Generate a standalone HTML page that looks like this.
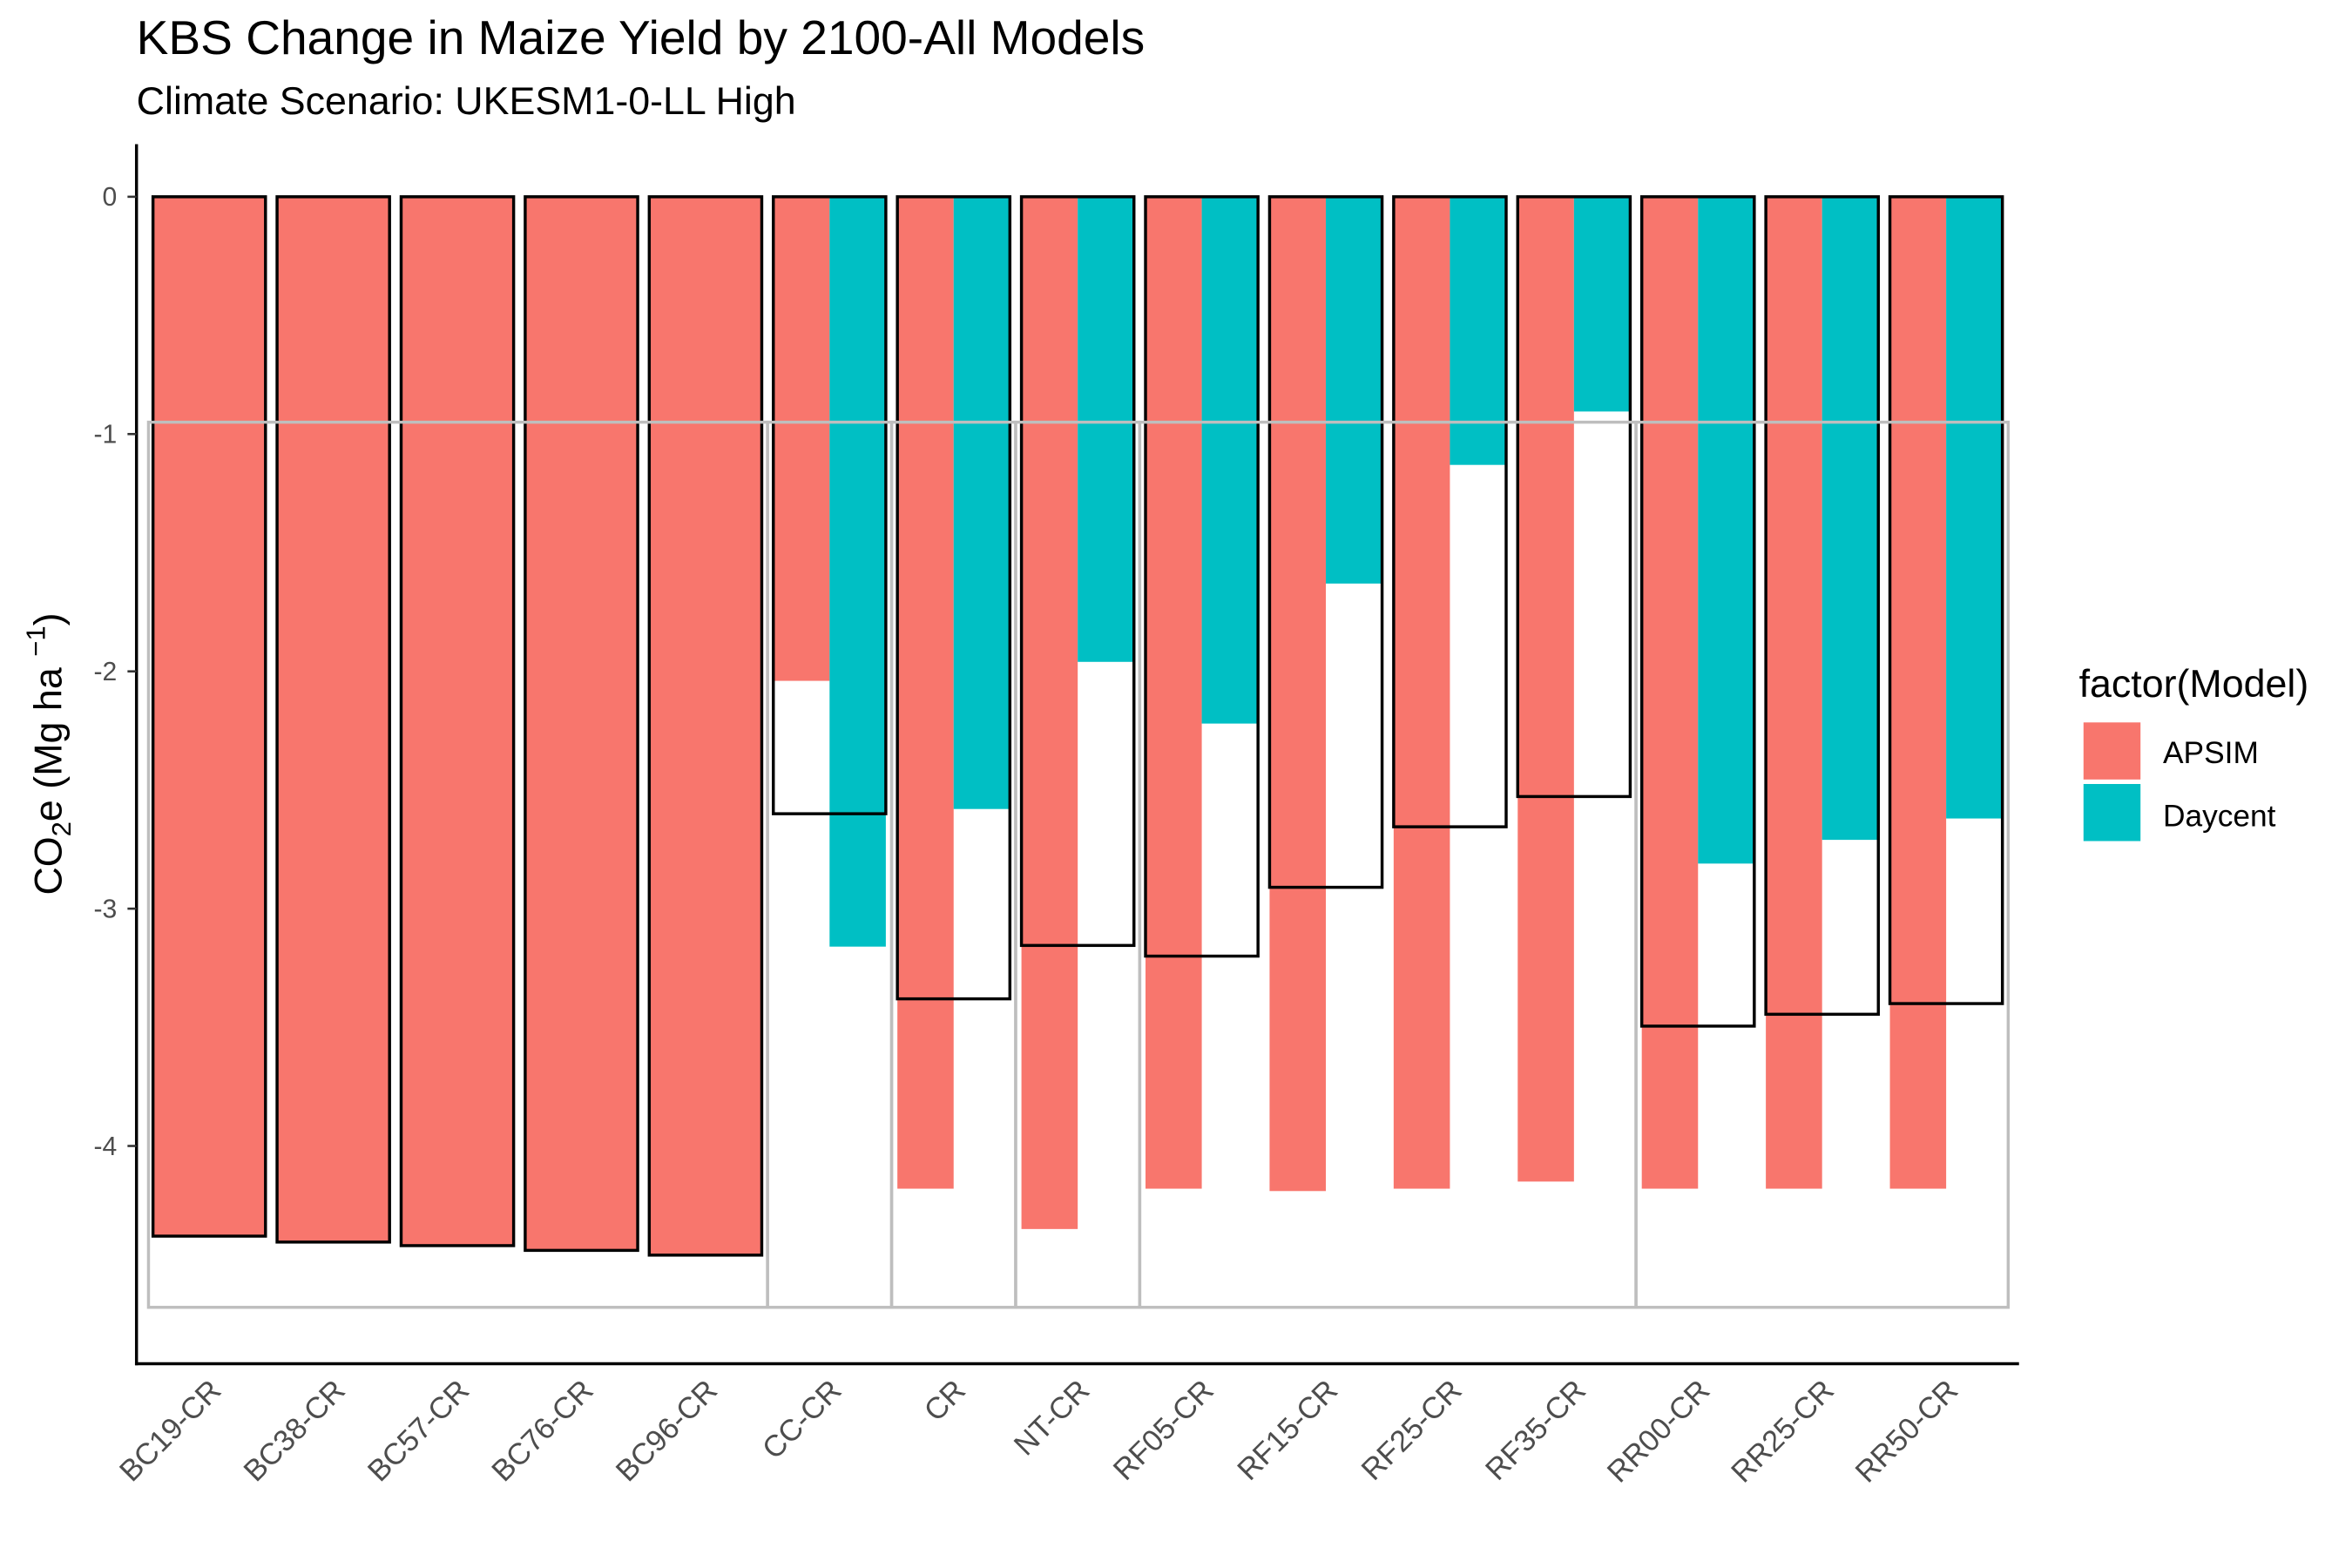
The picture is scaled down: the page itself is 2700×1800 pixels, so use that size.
<!DOCTYPE html>
<html><head><meta charset="utf-8"><style>
html,body{margin:0;padding:0;background:#fff;}
svg{display:block;font-family:"Liberation Sans",sans-serif;}
</style></head><body>
<svg id="chart" width="2700" height="1800" viewBox="0 0 1568 1044" preserveAspectRatio="none" xmlns="http://www.w3.org/2000/svg">
<text x="91" y="36" font-size="32" fill="#000">KBS Change in Maize Yield by 2100-All Models</text>
<text x="91" y="76" font-size="26" fill="#000">Climate Scenario: UKESM1-0-LL High</text>
<g id="bars"></g>
<g id="outlines"></g>
<g id="groups"></g>
<line x1="91" y1="96" x2="91" y2="909" stroke="#000" stroke-width="2"/>
<line x1="90" y1="908" x2="1346" y2="908" stroke="#000" stroke-width="2"/>
<g id="yticks"></g>
<g id="xticks"></g>
<text transform="translate(41,502) rotate(-90)" text-anchor="middle" font-size="26">CO<tspan font-size="18" dy="6">2</tspan><tspan dy="-6">e (Mg ha </tspan><tspan font-size="18" dy="-11">−1</tspan><tspan dy="11">)</tspan></text>
<g>
<text x="1386" y="464" font-size="26">factor(Model)</text>
<rect x="1389" y="481" width="38" height="38" fill="#F8766D"/>
<rect x="1389" y="522" width="38" height="38" fill="#00BFC4"/>
<text x="1442" y="508" font-size="20.5">APSIM</text>
<text x="1442" y="550" font-size="20.5">Daycent</text>
</g>
</svg>
<script>
const categories=["BC19-CR","BC38-CR","BC57-CR","BC76-CR","BC96-CR","CC-CR","CR","NT-CR","RF05-CR","RF15-CR","RF25-CR","RF35-CR","RR00-CR","RR25-CR","RR50-CR"];
const apsimValues=[-4.38,-4.405,-4.42,-4.44,-4.46,-2.04,-4.18,-4.35,-4.18,-4.19,-4.18,-4.15,-4.18,-4.18,-4.18];
const daycentValues=[null,null,null,null,null,-3.16,-2.58,-1.96,-2.22,-1.63,-1.13,-0.905,-2.81,-2.71,-2.62];
const yTicks=[0,-1,-2,-3,-4];
const groupBoxes=[[0,4],[5,5],[6,6],[7,7],[8,11],[12,14]];
const groupTop=-0.95, groupBottom=-4.68;

const NS="http://www.w3.org/2000/svg";
const y=v=>131-v*158;
const step=82.71, bw=75;
const xc=i=>139.5+i*step;
function mk(tag,attrs,parent){const e=document.createElementNS(NS,tag);for(const k in attrs)e.setAttribute(k,attrs[k]);document.getElementById(parent).appendChild(e);return e;}

categories.forEach((c,i)=>{
  const a=apsimValues[i], d=daycentValues[i];
  const left=xc(i)-bw/2;
  let outlineVal;
  if(d===null){
    const r=mk('rect',{x:left,y:y(0),width:bw,height:y(a)-y(0),fill:'#F8766D'},'bars');
    
    
    outlineVal=a;
  } else {
    const r=mk('rect',{x:left,y:y(0),width:bw/2,height:y(a)-y(0),fill:'#F8766D'},'bars');
    
    
    const r2=mk('rect',{x:left+bw/2,y:y(0),width:bw/2,height:y(d)-y(0),fill:'#00BFC4'},'bars');
    
    
    outlineVal=(a+d)/2;
  }
  const o=mk('rect',{x:left,y:y(0),width:bw,height:y(outlineVal)-y(0),fill:'none',stroke:'#000','stroke-width':2},'outlines');
  
  
  const t=mk('text',{transform:`translate(${xc(i)+9},${927}) rotate(-45)`,'text-anchor':'end','font-size':20,fill:'#4d4d4d'},'xticks');
  t.textContent=c;
  
  
});
groupBoxes.forEach((g,k)=>{
  const x0=xc(g[0])-step/2, x1=xc(g[1])+step/2;
  const r=mk('rect',{x:Math.max(x0,99),y:y(groupTop),width:Math.min(x1,1339)-Math.max(x0,99),height:y(groupBottom)-y(groupTop),fill:'none',stroke:'#bebebe','stroke-width':2},'groups');
  
  
});
yTicks.forEach(v=>{
  const l=mk('line',{x1:85,x2:91,y1:y(v),y2:y(v),stroke:'#333','stroke-width':1.5},'yticks');
  
  
  const t=mk('text',{x:78,y:y(v)+6,'text-anchor':'end','font-size':17.5,fill:'#4d4d4d'},'yticks');
  t.textContent=String(v);
  
  
});
</script>
</body></html>
